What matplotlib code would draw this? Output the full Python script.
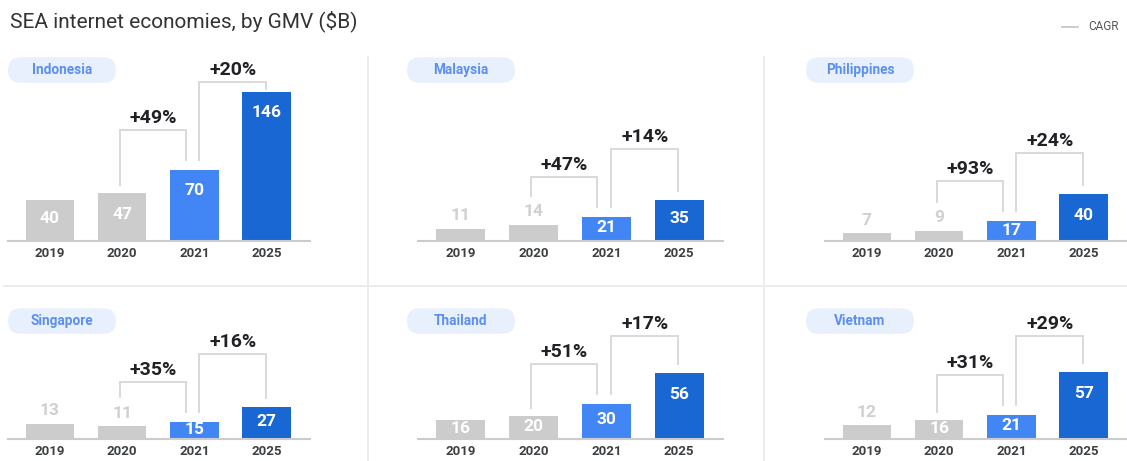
import matplotlib
matplotlib.use('Agg')
import matplotlib.pyplot as plt
from matplotlib.patches import FancyBboxPatch

plt.rcParams['font.family'] = ['Roboto', 'DejaVu Sans']

# ---------------- data ----------------
title = 'SEA internet economies, by GMV ($B)'
years = ['2019', '2020', '2021', '2025']
countries = ['Indonesia', 'Malaysia', 'Philippines', 'Singapore', 'Thailand', 'Vietnam']
gmv_indonesia = [40, 47, 70, 146]
gmv_malaysia = [11, 14, 21, 35]
gmv_philippines = [7, 9, 17, 40]
gmv_singapore = [13, 11, 15, 27]
gmv_thailand = [16, 20, 30, 56]
gmv_vietnam = [12, 16, 21, 57]
cagr_2019_2021 = ['+49%', '+47%', '+93%', '+35%', '+51%', '+31%']
cagr_2021_2025 = ['+20%', '+14%', '+24%', '+16%', '+17%', '+29%']
legend_label = 'CAGR'

series = [gmv_indonesia, gmv_malaysia, gmv_philippines,
          gmv_singapore, gmv_thailand, gmv_vietnam]

# ---------------- style / layout ----------------
W, H = 1127, 461
DPI = 100
bar_colors = ['#cccccc', '#cccccc', '#4285f4', '#1967d2']
grey_label = '#d0d0d0'
bracket_col = '#d9d9d9'
dark = '#202124'
col_x = [(8, 310), (418, 723), (825, 1127)]
row_base = [241.5, 439.3]
row_top = [50, 290]
pill_x = [8, 407, 806]
pill_y = [57.3, 308.3]
pill_w, pill_h = 108, 25.5

fig = plt.figure(figsize=(W / DPI, H / DPI), dpi=DPI)
fig.patch.set_facecolor('white')

# background overlay in pixel coordinates
bg = fig.add_axes([0, 0, 1, 1], zorder=0)
bg.set_xlim(0, W)
bg.set_ylim(H, 0)
bg.axis('off')

bg.text(10, 21, title, fontsize=15, color='#333333', va='center', ha='left')
bg.plot([1062, 1078], [27, 27], color='#c8c8c8', lw=1.3)
bg.text(1088, 27, legend_label, fontsize=8.5, color='#555555', va='center', ha='left')

div_col = '#ececec'
for xv in (368, 764):
    bg.plot([xv, xv], [57, H], color=div_col, lw=1.4)
bg.plot([4, W], [286, 286], color=div_col, lw=1.4)

for k, name in enumerate(countries):
    r, c = divmod(k, 3)
    px, py = pill_x[c], pill_y[r]
    bg.add_patch(FancyBboxPatch((px, py), pill_w, pill_h,
                                boxstyle='round,pad=0,rounding_size=12.7',
                                facecolor='#e8f0fe', edgecolor='none'))
    bg.text(px + pill_w / 2, py + pill_h / 2, name, fontsize=9.8, fontweight='bold',
            color='#5b8ff0', ha='center', va='center')

for k, vals in enumerate(series):
    r, c = divmod(k, 3)
    x0, x1 = col_x[c]
    base, top = row_base[r], row_top[r]
    ax_h = base - top
    ax = fig.add_axes([x0 / W, (H - base) / H, (x1 - x0) / W, ax_h / H], zorder=1)
    ax.patch.set_alpha(0)
    ppu = min(1.18, 150 / max(vals))       # pixels per unit
    ax.set_ylim(0, ax_h / ppu)
    ax.set_xlim(-0.58, 3.6)
    d = lambda p: p / ppu                  # px -> data units

    xs = list(range(len(years)))
    ax.bar(xs, vals, width=0.67, color=bar_colors, linewidth=0, zorder=2)

    for s in ('left', 'right', 'top'):
        ax.spines[s].set_visible(False)
    ax.spines['bottom'].set_color('#cccccc')
    ax.spines['bottom'].set_linewidth(1.5)
    ax.set_yticks([])
    ax.set_xticks(xs)
    ax.set_xticklabels(years)
    ax.tick_params(axis='x', length=0, pad=4, labelsize=9.5, labelcolor='#3c4043')
    for t in ax.get_xticklabels():
        t.set_fontweight('bold')

    hpx = [v * ppu for v in vals]
    elem_top = []
    for i, v in enumerate(vals):
        h = hpx[i]
        if i < 2 and h < 17.5:
            ax.text(i, d(h + 13), str(v), ha='center', va='center', fontsize=12.5,
                    fontweight='bold', color=grey_label, zorder=3)
            elem_top.append(h + 21)
        else:
            ax.text(i, d(h - min(21, 0.45 * h)), str(v), ha='center', va='center',
                    fontsize=12.5, fontweight='bold', color='white', zorder=3)
            elem_top.append(h)

    # CAGR brackets
    b1 = hpx[2] + 40
    b2 = min(max(hpx[3] + 36, b1 + 28), 160)
    b1 = max(min(b1, b2 - 28), elem_top[1] + 14)
    lw = 1.4
    # bracket 2019->2021 (drawn 2020->2021)
    xa, xb = 1 - 0.03, 2 - 0.12
    ya, yb = elem_top[1] + 8, hpx[2] + 10
    ax.plot([xa, xa, xb, xb], [d(ya), d(b1), d(b1), d(yb)], color=bracket_col, lw=lw,
            zorder=1, solid_joinstyle='miter')
    ax.text((xa + xb) / 2, d(b1 + 12), cagr_2019_2021[k], ha='center', va='center',
            fontsize=14, fontweight='bold', color=dark, clip_on=False)
    # bracket 2021->2025
    xa, xb = 2 + 0.07, 3 - 0.01
    ya, yb = hpx[2] + 10, min(hpx[3] + 9, b2 - 7)
    ax.plot([xa, xa, xb, xb], [d(ya), d(b2), d(b2), d(yb)], color=bracket_col, lw=lw,
            zorder=1, solid_joinstyle='miter')
    ax.text((xa + xb) / 2, d(b2 + 12), cagr_2021_2025[k], ha='center', va='center',
            fontsize=14, fontweight='bold', color=dark, clip_on=False)

fig.savefig('out.png', dpi=DPI, facecolor='white')
